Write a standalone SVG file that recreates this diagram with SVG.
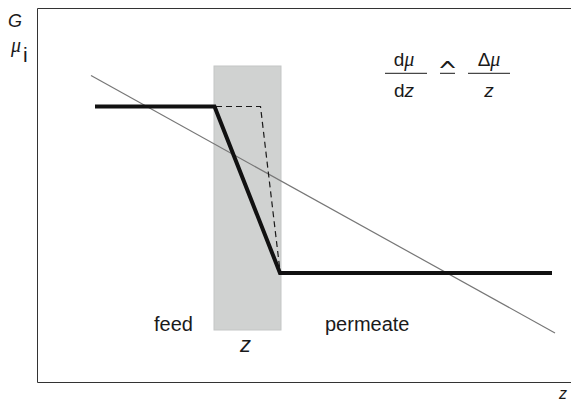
<svg xmlns="http://www.w3.org/2000/svg" width="571" height="402" viewBox="0 0 571 402">
<style>
.t{font-family:"Liberation Sans",Arial,sans-serif;fill:#1a1a1a}
.i{font-style:italic}
.g{font-family:"Liberation Serif","Times New Roman",serif;font-style:italic;fill:#1a1a1a}
</style>
<rect width="571" height="402" fill="#fff"/>
<g id="frame">
<path d="M571 8.5H37.5V382.5H571" fill="none" stroke="#333" stroke-width="1"/>
</g>
<g id="membrane">
<rect x="214" y="66" width="67" height="264" fill="#d0d2d1" stroke="#c4c6c5" stroke-width="1"/>
</g>
<g id="connectors">
<line x1="91" y1="75.5" x2="555" y2="333" stroke="#777" stroke-width="1.2"/>
<path d="M216 106.5H260.5L280 271" fill="none" stroke="#1a1a1a" stroke-width="1.2" stroke-dasharray="6 4"/>
<path d="M95 106.5H214.5L280 273H552" fill="none" stroke="#111" stroke-width="4"/>
</g>
<g id="labels">
<text class="t i" x="8" y="27" font-size="18">G</text>
<text class="g" x="11" y="52" font-size="20">μ</text>
<text class="t" x="23" y="62" font-size="21">i</text>
<text class="t" x="154" y="331" font-size="20">feed</text>
<text class="t" x="325" y="331" font-size="20">permeate</text>
<text class="t i" x="240" y="352" font-size="22">z</text>
<text class="t i" x="559" y="399" font-size="16">z</text>
</g>
<g id="formula">
<text class="t" x="404" y="66" font-size="19" text-anchor="middle">d<tspan class="g" font-size="20">μ</tspan></text>
<line x1="385" y1="73.3" x2="427" y2="73.3" stroke="#1a1a1a" stroke-width="1"/>
<text class="t" x="404" y="97" font-size="19" text-anchor="middle">d<tspan class="i">z</tspan></text>
<text x="447.5" y="78.5" font-size="24" text-anchor="middle" font-family="DejaVu Sans,sans-serif" fill="#1a1a1a">^</text>
<line x1="440" y1="73.3" x2="455" y2="73.3" stroke="#1a1a1a" stroke-width="1"/>
<text class="t" x="489" y="66" font-size="19" text-anchor="middle">Δ<tspan class="g" font-size="20">μ</tspan></text>
<line x1="468" y1="73.3" x2="510" y2="73.3" stroke="#1a1a1a" stroke-width="1"/>
<text class="t i" x="489" y="97" font-size="19" text-anchor="middle">z</text>
</g>
</svg>
